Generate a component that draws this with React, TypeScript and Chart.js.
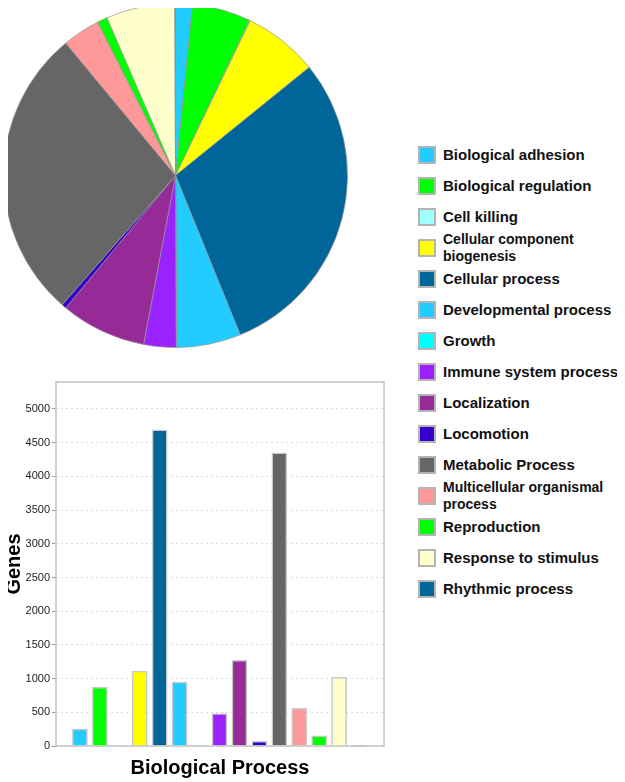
import React, { useEffect, useRef } from "react";
import { Chart, registerables } from "chart.js";

Chart.register(...registerables);

const categories = [
  "Biological adhesion",
  "Biological regulation",
  "Cell killing",
  "Cellular component biogenesis",
  "Cellular process",
  "Developmental process",
  "Growth",
  "Immune system process",
  "Localization",
  "Locomotion",
  "Metabolic Process",
  "Multicellular organismal process",
  "Reproduction",
  "Response to stimulus",
  "Rhythmic process",
];

const legendLines = [
  ["Biological adhesion"],
  ["Biological regulation"],
  ["Cell killing"],
  ["Cellular component", "biogenesis"],
  ["Cellular process"],
  ["Developmental process"],
  ["Growth"],
  ["Immune system process"],
  ["Localization"],
  ["Locomotion"],
  ["Metabolic Process"],
  ["Multicellular organismal", "process"],
  ["Reproduction"],
  ["Response to stimulus"],
  ["Rhythmic process"],
];

const genes = [250, 870, 10, 1110, 4690, 950, 10, 480, 1270, 70, 4350, 560, 150, 1020, 10];

const colors = [
  "#22ccff",
  "#00ff00",
  "#a0ffff",
  "#ffff00",
  "#006699",
  "#22ccff",
  "#00ffff",
  "#9922ff",
  "#962a96",
  "#3300cc",
  "#666666",
  "#ff9999",
  "#00ff00",
  "#ffffcc",
  "#006699",
];

const yTicks = [0, 500, 1000, 1500, 2000, 2500, 3000, 3500, 4000, 4500, 5000];
const yMax = 5400;

const boxPlugin = {
  id: "plotBox",
  afterDatasetsDraw(chart: any) {
    const { ctx, chartArea } = chart;
    ctx.save();
    ctx.strokeStyle = "#c4c4c4";
    ctx.lineWidth = 1.5;
    ctx.strokeRect(chartArea.left, chartArea.top, chartArea.right - chartArea.left, chartArea.bottom - chartArea.top);
    ctx.restore();
  },
};

function PieChart() {
  const ref = useRef<HTMLCanvasElement>(null);
  useEffect(() => {
    const chart = new Chart(ref.current!, {
      type: "pie",
      data: {
        labels: categories,
        datasets: [
          {
            data: genes,
            backgroundColor: colors,
            borderColor: "rgba(150,150,150,0.7)",
            borderWidth: 1,
          },
        ],
      },
      options: {
        responsive: false,
        animation: false,
        layout: { padding: 0 },
        plugins: { legend: { display: false }, tooltip: { enabled: false } },
      },
    });
    return () => chart.destroy();
  }, []);
  return (
    <canvas
      ref={ref}
      width={345}
      height={345}
      style={{ position: "absolute", left: 3, top: 3, width: 345, height: 345 }}
    />
  );
}

function BarChart() {
  const ref = useRef<HTMLCanvasElement>(null);
  useEffect(() => {
    const chart = new Chart(ref.current!, {
      type: "bar",
      data: {
        datasets: [
          {
            data: genes.map((v, i) => ({ x: i, y: v })),
            backgroundColor: colors,
            borderColor: "#c8c8c8",
            borderWidth: 1.5,
            barThickness: 15,
          },
        ],
      },
      options: {
        responsive: false,
        animation: false,
        layout: { padding: { top: 12, right: 16, left: 0, bottom: 0 } },
        plugins: { legend: { display: false }, tooltip: { enabled: false } },
        scales: {
          x: {
            type: "linear",
            offset: false,
            min: -1.2,
            max: categories.length + 0.25,
            ticks: { display: false },
            grid: { display: false, offset: false },
            border: { display: false },
            title: {
              display: true,
              text: "Biological Process",
              color: "#000",
              font: { family: "'Liberation Sans', Arial, sans-serif", size: 20, weight: "bold", lineHeight: 1 },
              padding: { top: 0, bottom: 4 },
            },
            afterFit(scale: any) {
              scale.height = 36;
            },
          },
          y: {
            min: 0,
            max: yMax,
            afterBuildTicks(scale: any) {
              scale.ticks = yTicks.map((value) => ({ value }));
            },
            ticks: {
              color: "#222",
              padding: 2,
              font: { family: "'Liberation Sans', Arial, sans-serif", size: 11 },
              callback: (v: any) => String(v),
            },
            grid: { color: "#dcdcdc", tickColor: "#999", tickLength: 4, lineWidth: 1 },
            border: { display: false, dash: [2, 3] },
            title: {
              display: true,
              text: "Genes",
              color: "#000",
              font: { family: "'Liberation Sans', Arial, sans-serif", size: 20, weight: "bold", lineHeight: 1 },
              padding: { top: 4, bottom: 0 },
            },
            afterFit(scale: any) {
              scale.width = 56;
            },
          },
        },
      },
      plugins: [boxPlugin],
    });
    return () => chart.destroy();
  }, []);
  return (
    <canvas
      ref={ref}
      width={400}
      height={412}
      style={{ position: "absolute", left: 0, top: 370, width: 400, height: 412 }}
    />
  );
}

function Legend() {
  return (
    <div
      style={{
        position: "absolute",
        left: 418,
        top: 139.5,
        fontFamily: "'Liberation Sans', Arial, sans-serif",
        fontWeight: "bold",
        color: "#111",
      }}
    >
      {categories.map((c, i) => (
        <div key={c} style={{ height: 31, display: "flex", alignItems: "center" }}>
          <div
            style={{
              width: 14,
              height: 14,
              border: "2px solid #b4b4b4",
              background: colors[i],
              flex: "none",
            }}
          />
          <div
            style={{
              marginLeft: 7,
              fontSize: legendLines[i].length > 1 ? 14 : 15,
              lineHeight: legendLines[i].length > 1 ? "17px" : "18px",
              whiteSpace: "nowrap",
            }}
          >
            {legendLines[i].map((l, k) => (
              <div key={k}>{l}</div>
            ))}
          </div>
        </div>
      ))}
    </div>
  );
}

export default function App() {
  return (
    <div style={{ position: "relative", width: 625, height: 782 }}>
      <div style={{ position: "absolute", left: -8, top: -8, width: 625, height: 782 }}>
        <PieChart />
        <BarChart />
        <Legend />
      </div>
    </div>
  );
}
